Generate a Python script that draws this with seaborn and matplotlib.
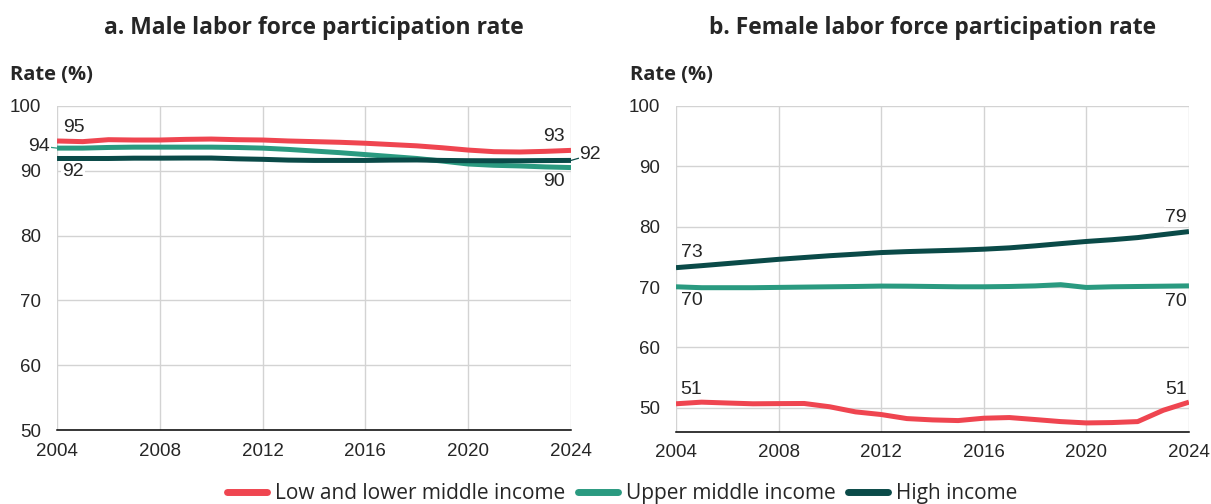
import numpy as np
import pandas as pd
import matplotlib
matplotlib.use("Agg")
import matplotlib.pyplot as plt
import seaborn as sns


# =====================
# DATA
# =====================

years = list(range(2004, 2025))
groups = ["Low and lower middle income", "Upper middle income", "High income"]
colors = ["#EF4550", "#2A9A80", "#0A4A48"]

male_low = [94.6, 94.5, 94.8, 94.75, 94.75, 94.85, 94.9, 94.8, 94.75, 94.6, 94.5,
            94.4, 94.25, 94.05, 93.85, 93.55, 93.2, 92.95, 92.9, 93.0, 93.15]
male_upper = [93.5, 93.5, 93.6, 93.65, 93.65, 93.65, 93.65, 93.6, 93.5, 93.3, 93.05,
              92.8, 92.5, 92.2, 91.9, 91.5, 91.05, 90.85, 90.75, 90.6, 90.5]
male_high = [91.9, 91.9, 91.9, 91.95, 91.95, 91.97, 91.97, 91.85, 91.77, 91.65, 91.6,
             91.6, 91.6, 91.65, 91.67, 91.6, 91.56, 91.55, 91.55, 91.58, 91.6]

female_low = [50.67, 50.94, 50.8, 50.67, 50.7, 50.72, 50.17, 49.33, 48.89, 48.22, 48.0,
              47.89, 48.28, 48.39, 48.06, 47.72, 47.5, 47.56, 47.72, 49.6, 50.94]
female_upper = [70.05, 69.9, 69.9, 69.9, 69.95, 70.0, 70.05, 70.1, 70.17, 70.15, 70.1,
                70.05, 70.05, 70.1, 70.2, 70.4, 69.94, 70.05, 70.1, 70.15, 70.2]
female_high = [73.22, 73.55, 73.9, 74.25, 74.6, 74.9, 75.2, 75.45, 75.72, 75.88, 76.0,
               76.12, 76.28, 76.5, 76.83, 77.2, 77.56, 77.85, 78.2, 78.7, 79.2]

titles = ["a. Male labor force participation rate",
          "b. Female labor force participation rate"]


def to_long(low, upper, high):
    frames = []
    for name, vals in zip(groups, [low, upper, high]):
        frames.append(pd.DataFrame({"year": years, "rate": vals, "group": name}))
    return pd.concat(frames, ignore_index=True)


male_df = to_long(male_low, male_upper, male_high)
female_df = to_long(female_low, female_upper, female_high)


# =====================
# STYLE
# =====================

sns.set_style("white")
plt.rcParams["font.family"] = ["Open Sans", "DejaVu Sans"]
num_family = ["Liberation Sans", "DejaVu Sans"]

fig = plt.figure(figsize=(12.11, 5.04), dpi=100)
ax_m = fig.add_axes([0.0471, 0.1468, 0.4244, 0.6429])
ax_f = fig.add_axes([0.5582, 0.1429, 0.4236, 0.6468])

palette = dict(zip(groups, colors))

for ax, df, ylim in [(ax_m, male_df, (50, 100)), (ax_f, female_df, (46, 100))]:
    sns.lineplot(data=df, x="year", y="rate", hue="group", palette=palette,
                 linewidth=3.6, ax=ax, legend=False, solid_capstyle="butt")
    ax.set_xlim(2004, 2024)
    ax.set_ylim(*ylim)
    ax.set_xticks(range(2004, 2025, 4))
    ax.set_yticks(range(50, 101, 10))
    ax.grid(True, color="#D3D3D3", linewidth=1)
    ax.set_axisbelow(True)
    for side in ["left", "right", "top"]:
        ax.spines[side].set_visible(False)
    ax.spines["bottom"].set_color("black")
    ax.spines["bottom"].set_linewidth(1.1)
    ax.tick_params(axis="x", direction="out", length=6, width=1, color="black",
                   pad=3, labelsize=13.5)
    ax.tick_params(axis="y", length=0, pad=11.5, labelsize=13.5)
    for lab in ax.get_xticklabels() + ax.get_yticklabels():
        lab.set_family(num_family)
    ax.set_xlabel("")
    ax.set_ylabel("")

fig.text(0.259, 0.944, titles[0], ha="center", va="center", fontsize=16.5,
         fontweight="bold")
fig.text(0.770, 0.944, titles[1], ha="center", va="center", fontsize=16.5,
         fontweight="bold")
fig.text(0.008, 0.851, "Rate (%)", ha="left", va="center", fontsize=14.5,
         fontweight="bold")
fig.text(0.520, 0.851, "Rate (%)", ha="left", va="center", fontsize=14.5,
         fontweight="bold")


# =====================
# END LABELS
# =====================

def label(ax, x, y, text, dx, dy, line_color=None):
    kw = dict(textcoords="offset points", ha="center", va="center",
              family=num_family, fontsize=14, annotation_clip=False,
              bbox=dict(boxstyle="square,pad=0.05", fc="white", ec="none"))
    if line_color is not None:
        kw["arrowprops"] = dict(arrowstyle="-", color=line_color, lw=0.9,
                                shrinkA=6, shrinkB=0)
    ax.annotate(text, xy=(x, y), xytext=(dx, dy), **kw)


label(ax_m, years[0], male_low[0], "95", 12, 10)
label(ax_m, years[0], male_upper[0], "94", -13, 1.5, colors[1])
label(ax_m, years[0], male_high[0], "92", 11.5, -9.5)
label(ax_m, years[-1], male_low[-1], "93", -12.4, 10.3)
label(ax_m, years[-1], male_high[-1], "92", 14, 4, colors[2])
label(ax_m, years[-1], male_upper[-1], "90", -12.4, -9.8)

label(ax_f, years[0], female_high[0], "73", 11.5, 10.9)
label(ax_f, years[0], female_upper[0], "70", 11.5, -10)
label(ax_f, years[0], female_low[0], "51", 11, 10.4)
label(ax_f, years[-1], female_high[-1], "79", -9.2, 10.2)
label(ax_f, years[-1], female_upper[-1], "70", -9.2, -10.9)
label(ax_f, years[-1], female_low[-1], "51", -9.2, 9.2)


# =====================
# LEGEND
# =====================

handles = [plt.Line2D([], [], color=c, linewidth=5) for c in colors]
fig.legend(handles, groups, loc="center", bbox_to_anchor=(0.514, 0.02),
           ncol=3, frameon=False, fontsize=15, handlelength=1.9,
           handletextpad=0.4, columnspacing=0.6, borderpad=0)

fig.savefig("out.png", dpi=100)
plt.close(fig)
